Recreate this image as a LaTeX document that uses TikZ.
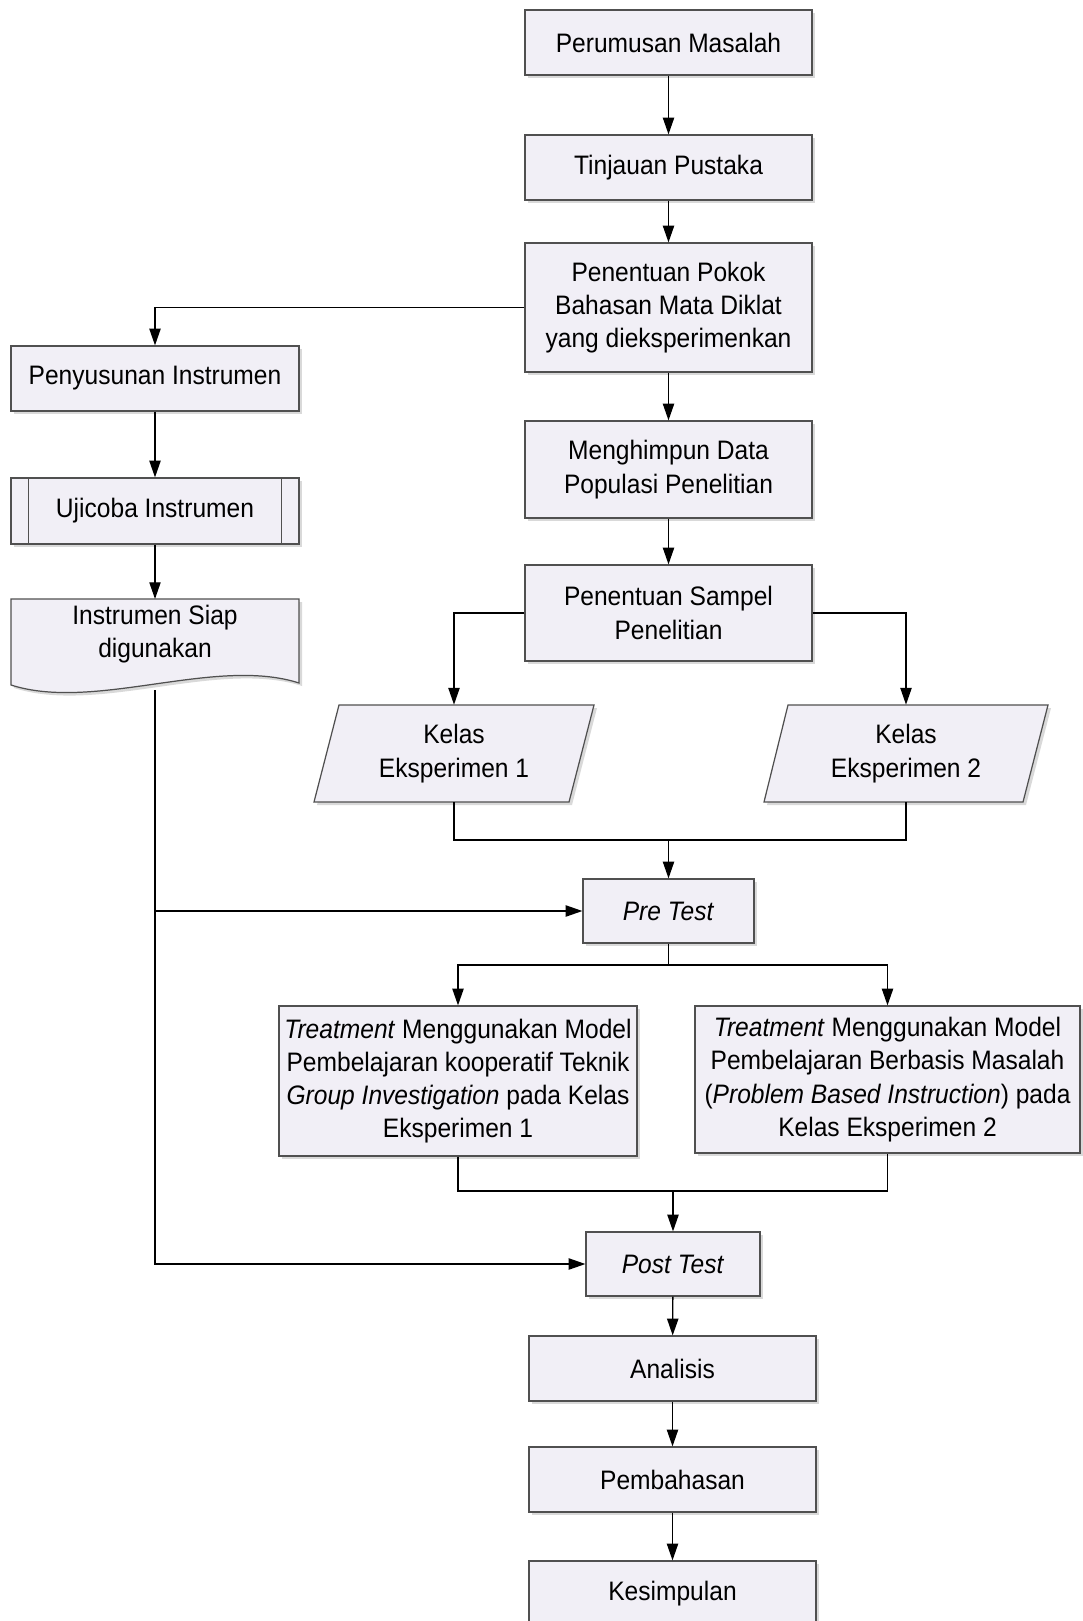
\documentclass[tikz,border=0pt]{standalone}
\usepackage{fontspec}
\setmainfont{Liberation Sans}[FakeStretch=0.92]
\usetikzlibrary{arrows.meta,shadows}
\definecolor{isikotak}{RGB}{241,239,246}
\definecolor{garistepi}{RGB}{80,80,80}

\tikzset{
	bentuk/.style={draw=garistepi, fill=isikotak, line width=0.7pt, drop shadow={shadow xshift=0.06cm, shadow yshift=-0.06cm, fill=black!15, opacity=1}},
	kotak/.style={bentuk, minimum width=5.74cm, minimum height=1.3cm, inner sep=0pt, align=center, font=\fontsize{15.2}{18.9}\selectfont},
	tulisan/.style={inner sep=0pt, align=center, font=\fontsize{15.2}{18.9}\selectfont},
	panah/.style={line width=0.75pt, -{Triangle[length=9.5pt,width=6.4pt]}},
	garis/.style={line width=0.75pt}
}

\begin{document}
\begin{tikzpicture}[x=0.02cm, y=-0.02cm]
		%%%%% START %%%%%
		\useasboundingbox (0, 0) rectangle (1082, 1621);
		
		\node[kotak] (perumusan) at (668.5, 42.5) {Perumusan Masalah};
		\node[kotak] (tinjauan) at (668.5, 167.5) {Tinjauan Pustaka};
		\node[kotak, minimum height=2.58cm] (pokok) at (668.5, 307.5) {Penentuan Pokok\\Bahasan Mata Diklat\\yang dieksperimenkan};
		\node[kotak, minimum height=1.94cm] (menghimpun) at (668.5, 469.5) {Menghimpun Data\\Populasi Penelitian};
		\node[kotak, minimum height=1.92cm] (sampel) at (668.5, 613) {Penentuan Sampel\\Penelitian};
		
		\node[kotak, minimum width=5.76cm] (penyusunan) at (155, 378.5) {Penyusunan Instrumen};
		\node[kotak, minimum width=5.76cm, minimum height=1.32cm] (ujicoba) at (155, 511) {Ujicoba Instrumen};
		\draw[line width=0.7pt, color=garistepi] ([xshift=0.36cm]ujicoba.north west) -- ([xshift=0.36cm]ujicoba.south west);
		\draw[line width=0.7pt, color=garistepi] ([xshift=-0.36cm]ujicoba.north east) -- ([xshift=-0.36cm]ujicoba.south east);
		
		\draw[bentuk] (11, 599) -- (299, 599) -- (299, 683) .. controls (215, 656) and (95, 712) .. (11, 685) -- cycle;
		\node[tulisan] (siap) at (155, 634) {Instrumen Siap\\digunakan};
		\coordinate (siapbawah) at (155, 690);
		
		\draw[bentuk] (339, 705) -- (594, 705) -- (569, 802) -- (314, 802) -- cycle;
		\node[tulisan, minimum width=5.1cm, minimum height=1.94cm] (kelas1) at (454, 753.5) {Kelas\\Eksperimen 1};
		\draw[bentuk] (788, 705) -- (1048, 705) -- (1023, 802) -- (764, 802) -- cycle;
		\node[tulisan, minimum width=5.1cm, minimum height=1.94cm] (kelas2) at (906, 753.5) {Kelas\\Eksperimen 2};
		
		\node[kotak, minimum width=3.42cm, minimum height=1.28cm] (pretest) at (668.5, 911) {\textit{Pre Test}};
		
		\node[kotak, minimum width=7.16cm, minimum height=3cm] (treat1) at (458, 1081) {\textit{Treatment} Menggunakan Model\\Pembelajaran kooperatif Teknik\\\textit{Group Investigation} pada Kelas\\Eksperimen 1};
		\node[kotak, minimum width=7.7cm, minimum height=2.94cm] (treat2) at (887.5, 1079.5) {\textit{Treatment} Menggunakan Model\\Pembelajaran Berbasis Masalah\\(\textit{Problem Based Instruction}) pada\\Kelas Eksperimen 2};
		
		\node[kotak, minimum width=3.48cm, minimum height=1.28cm] (posttest) at (673, 1264) {\textit{Post Test}};
		\node[kotak] (analisis) at (672.5, 1368.5) {Analisis};
		\node[kotak] (pembahasan) at (672.5, 1479.5) {Pembahasan};
		\node[kotak] (kesimpulan) at (672.5, 1593.5) {Kesimpulan};
		
		\draw[panah] (perumusan) -- (tinjauan);
		\draw[panah] (tinjauan) -- (pokok);
		\draw[panah] (pokok) -- (menghimpun);
		\draw[panah] (menghimpun) -- (sampel);
		\draw[panah] (pokok.west) -| (penyusunan.north);
		\draw[panah] (penyusunan) -- (ujicoba);
		\draw[panah] (ujicoba.south) -- (155, 599);
		
		\draw[panah] (sampel.west) -| (kelas1.north);
		\draw[panah] (sampel.east) -| (kelas2.north);
		
		\coordinate (gabung1) at (668.5, 840);
		\draw[garis] (kelas1.south) |- (gabung1) -| (kelas2.south);
		\draw[panah] (gabung1) -- (pretest.north);
		
		\draw[panah] (siapbawah) |- (posttest.west);
		\draw[panah] (siapbawah |- pretest.west) -- (pretest.west);
		
		\coordinate (cabang) at (668.5, 965);
		\draw[garis] (pretest.south) -- (cabang);
		\draw[panah] (cabang) -| (treat1.north);
		\draw[panah] (cabang) -| (treat2.north);
		
		\coordinate (gabung2) at (673, 1191);
		\draw[garis] (treat1.south) |- (gabung2) -| (treat2.south);
		\draw[panah] (gabung2) -- (posttest.north);
		
		\draw[panah] (posttest) -- (analisis);
		\draw[panah] (analisis) -- (pembahasan);
		\draw[panah] (pembahasan) -- (kesimpulan);
		
		%%%%% END %%%%%
	\end{tikzpicture}
\end{document}
